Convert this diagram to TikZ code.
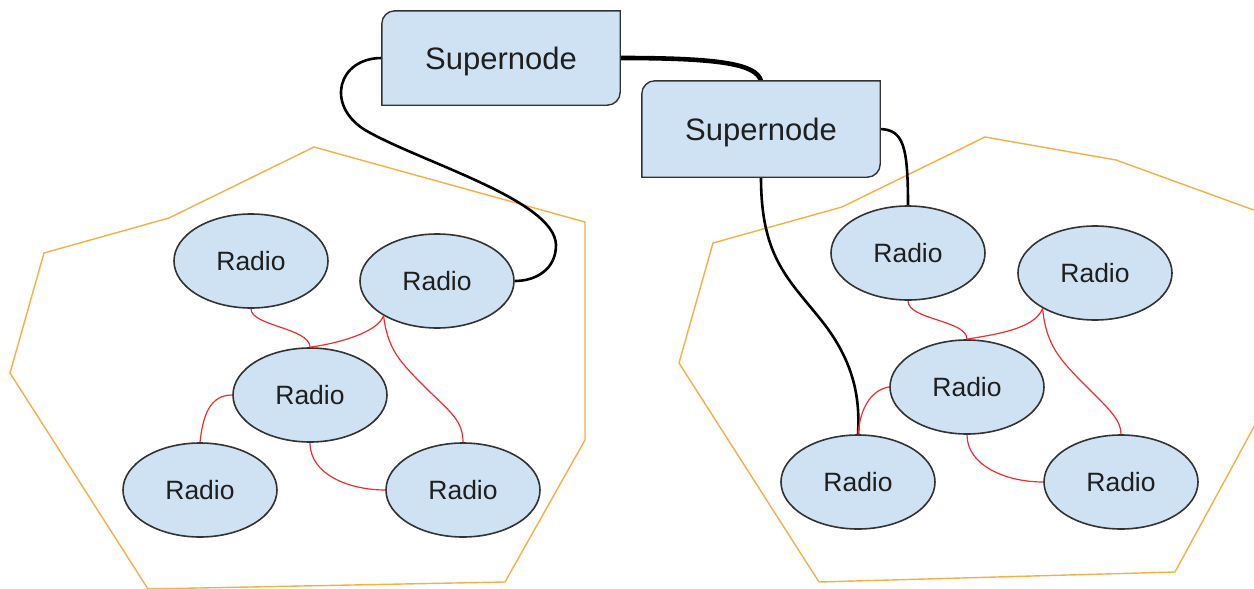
\documentclass[tikz,border=0pt]{standalone}
\usepackage{fontspec}
\setmainfont{Liberation Sans}
\usetikzlibrary{shapes.geometric,backgrounds,calc}
\definecolor{nodefill}{HTML}{CFE2F3}
\definecolor{nodeline}{HTML}{333333}
\definecolor{txt}{HTML}{1F1F1F}
\definecolor{zone}{HTML}{F7AE45}
\definecolor{meshred}{HTML}{F22C2C}
\tikzset{
  radio/.style={ellipse, draw=nodeline, line width=1.6pt, fill=nodefill,
    minimum width=154pt, minimum height=94pt, inner sep=0pt, text=txt,
    font=\fontsize{26.5}{30}\selectfont},
  superbox/.style={minimum width=238pt, minimum height=94pt, inner sep=0pt,
    text=txt, font=\fontsize{31}{36}\selectfont, text height=22pt, text depth=0pt},
  sndraw/.style={draw=nodeline, line width=1.4pt, fill=nodefill},
  zoneline/.style={draw=zone, line width=1.4pt, line join=miter},
  mesh/.style={draw=meshred, line width=1.2pt},
  uplink/.style={draw=black, line width=2.6pt},
  backbone/.style={draw=black, line width=4.6pt}
}
\begin{document}
\begin{tikzpicture}[x=1pt,y=1pt]
\useasboundingbox (0,0) rectangle (1254,-589);

% nodes
\node[superbox] (sn1) at (501,-58) {Supernode};
\node[superbox, minimum height=96pt] (sn2) at (761,-129) {Supernode};

\node[radio] (l1) at (251,-261) {Radio};
\node[radio] (l2) at (437,-281) {Radio};
\node[radio] (l3) at (310,-395) {Radio};
\node[radio] (l4) at (200,-490) {Radio};
\node[radio] (l5) at (463,-490) {Radio};

\node[radio] (r1) at (908,-253) {Radio};
\node[radio] (r2) at (1095,-273) {Radio};
\node[radio] (r3) at (967,-387) {Radio};
\node[radio] (r4) at (858,-482) {Radio};
\node[radio] (r5) at (1121,-482) {Radio};

\begin{pgfonlayer}{background}
  \begin{scope}
    \clip (0,0) rectangle (1254,-589);
    \draw[zoneline] (314,-147) -- (585,-222) -- (585,-440) -- (505,-582)
      -- (148,-589) -- (10,-373) -- (44,-253) -- (169,-218) -- cycle;
    \draw[zoneline] (985,-137) -- (1116,-160) -- (1262,-213) -- (1262,-412)
      -- (1175,-572) -- (819,-582) -- (679,-363) -- (713,-243) -- (842,-207) -- cycle;
  \end{scope}
  % connectors between supernodes and radios
  \draw[uplink] (sn1.west) .. controls (338,-58) and (325,-105) .. (365,-130)
    .. controls (420,-162) and (555,-200) .. (556,-245)
    .. controls (556,-270) and (535,-281) .. (l2.east);
  \draw[backbone] (sn1.east) .. controls (720,-58) and (756,-64) .. (sn2.north);
  \draw[uplink] (sn2.east) .. controls (903,-130) and (908,-145) .. (r1.north);
  \draw[uplink] (sn2.south) .. controls (761,-260) and (790,-280) .. (825,-325)
    .. controls (855,-365) and (860,-400) .. (r4.north);
  % supernode outlines
  \draw[sndraw] ($(sn1.north west)+(0,-13)$) arc[start angle=180,end angle=90,radius=13pt]
    -- (sn1.north east) -- ($(sn1.south east)+(0,13)$)
    arc[start angle=0,end angle=-90,radius=13pt] -- (sn1.south west) -- cycle;
  \draw[sndraw] ($(sn2.north west)+(0,-13)$) arc[start angle=180,end angle=90,radius=13pt]
    -- (sn2.north east) -- ($(sn2.south east)+(0,13)$)
    arc[start angle=0,end angle=-90,radius=13pt] -- (sn2.south west) -- cycle;
\end{pgfonlayer}

% mesh links, left cluster
\draw[mesh] (l1.south) .. controls (251,-326) and (310,-328) .. (l3.north);
\draw[mesh] (l2.213) .. controls (378,-332) and (340,-343) .. (l3.north);
\draw[mesh] (l2.213) .. controls (388,-350) and (400,-362) .. (425,-387)
  .. controls (450,-412) and (463,-420) .. (l5.north);
\draw[mesh] (l3.west) .. controls (210,-395) and (203,-415) .. (l4.north);
\draw[mesh] (l3.south) .. controls (310,-475) and (350,-490) .. (l5.west);

% mesh links, right cluster
\draw[mesh] (r1.south) .. controls (908,-320) and (967,-320) .. (r3.north);
\draw[mesh] (r2.214) .. controls (1035,-330) and (990,-335) .. (r3.north);
\draw[mesh] (r2.214) .. controls (1046,-345) and (1060,-360) .. (1085,-385)
  .. controls (1110,-410) and (1121,-420) .. (r5.north);
\draw[mesh] (r3.west) .. controls (870,-390) and (860,-410) .. (r4.north);
\draw[mesh] (r3.south) .. controls (967,-465) and (1005,-482) .. (r5.west);
\end{tikzpicture}
\end{document}
